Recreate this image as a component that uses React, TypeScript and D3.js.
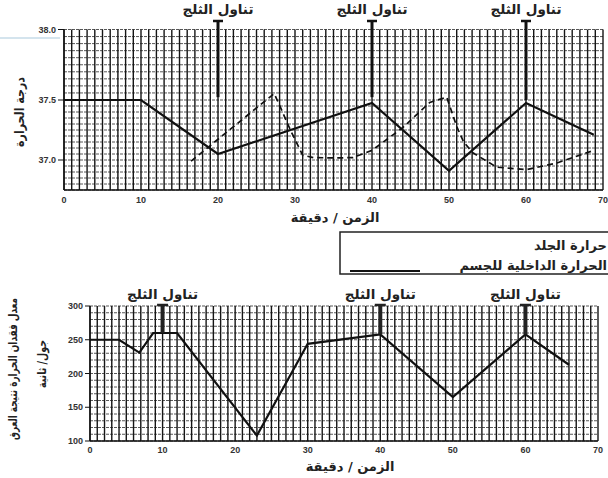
import React from 'react';
import * as d3 from 'd3';

// ---------- data ----------
const xTicks = [0, 10, 20, 30, 40, 50, 60, 70];
const yTopTicks = [37.0, 37.5, 38.0];
const yBottomTicks = [100, 150, 200, 250, 300];

const coreTime = [0, 10, 20, 40, 50, 60, 68.8];
const coreTemp = [37.5, 37.5, 37.05, 37.475, 36.91, 37.475, 37.21];

const skinTime = [16.5, 27.3, 28.1, 29.4, 31, 32.4, 35.4, 37.5, 40, 44, 47.5, 49.7, 51, 51.9, 53.1, 56.2, 60.1, 64, 68.8];
const skinTemp = [36.99, 37.546, 37.44, 37.25, 37.04, 37.02, 37.017, 37.02, 37.08, 37.27, 37.48, 37.52, 37.28, 37.15, 37.06, 36.94, 36.92, 36.975, 37.08];

const sweatTime = [0, 4, 6.8, 8.7, 12, 23, 30, 40, 50, 60, 66];
const sweatRate = [250, 250, 231, 260, 260, 108, 244, 258, 165, 258, 213];

const iceTopTimes = [20, 40, 60];
const iceTopEnds = [37.52, 37.52, 37.5];
const iceBottomTimes = [10, 40, 60];
const iceBottomEnds = [260, 258, 258];

const iceLabel = 'تناول الثلج';
const xTitle = 'الزمن / دقيقة';
const yTopTitle = 'درجة الحرارة';
const yBottomTitle1 = 'معدل فقدان الحرارة نتيجة العرق';
const yBottomTitle2 = 'جول/ ثانية';
const legendSkin = 'حرارة الجلد';
const legendCore = 'الحرارة الداخلية للجسم';

const AR = '"DejaVu Sans", sans-serif';
const LAT = '"Liberation Sans", Arial, sans-serif';

function Grid({ x, y, xMin, xMax, yVals }: any) {
  const mins = d3.range(xMin, xMax + 0.001, 1);
  const yr = y.range();
  const y0 = yr[0];
  const y1 = yr[yr.length - 1];
  const [x0, x1] = x.range();
  return (
    <g>
      {yVals.map((v: number, i: number) => (
        <line key={'h' + i} x1={x0} x2={x1} y1={y(v)} y2={y(v)} stroke="#444" strokeWidth={0.9} strokeDasharray="3 1" />
      ))}
      {mins.map((m: number) => (
        <line key={'v' + m} x1={x(m)} x2={x(m)} y1={y0} y2={y1} stroke="#151515" strokeWidth={1.4} />
      ))}
      <line x1={x0} x2={x1} y1={y0} y2={y0} stroke="#111" strokeWidth={1.4} />
      <line x1={x0} x2={x0} y1={y0} y2={y1} stroke="#111" strokeWidth={1.4} />
    </g>
  );
}

export default function App() {
  const xT = d3.scaleLinear().domain([0, 70]).range([64, 603]);
  const yT = d3.scaleLinear().domain([36.75, 37.0, 37.5, 38.0]).range([190, 160, 100, 29.5]);
  const xB = d3.scaleLinear().domain([0, 70]).range([90, 598]);
  const yB = d3.scaleLinear().domain([100, 300]).range([441, 306]);

  const topH = d3.range(0, 26).map((i) => +(38 - i * 0.05).toFixed(2));
  const botH = d3.range(0, 21).map((i) => 100 + i * 10);

  const corePath = d3.line<number>().x((_, i) => xT(coreTime[i])).y((d) => yT(d))(coreTemp) || '';
  const skinPath = d3.line<number>().x((_, i) => xT(skinTime[i])).y((d) => yT(d))(skinTemp) || '';
  const sweatPath = d3.line<number>().x((_, i) => xB(sweatTime[i])).y((d) => yB(d))(sweatRate) || '';

  return (
    <svg width={608} height={478} style={{ position: 'absolute', left: 0, top: 0, background: '#fff' }}>
      <rect x={0} y={0} width={608} height={478} fill="#fff" />
      {/* scan artefact line */}
      <line x1={0} x2={60} y1={38} y2={38} stroke="#a9c9dc" strokeWidth={1} />

      {/* ---------- top chart ---------- */}
      <Grid x={xT} y={yT} xMin={0} xMax={70} yVals={topH} />
      {yTopTicks.map((t) => (
        <g key={'yt' + t}>
          <line x1={58} x2={64} y1={yT(t)} y2={yT(t)} stroke="#111" strokeWidth={1} />
          <text x={56} y={yT(t) + 3} textAnchor="end" fontFamily={LAT} fontSize={9} fontWeight="bold" fill="#333">{t.toFixed(1)}</text>
        </g>
      ))}
      {xTicks.map((t) => (
        <text key={'xt' + t} x={xT(t)} y={203} textAnchor="middle" fontFamily={LAT} fontSize={9} fontWeight="bold" fill="#333">{t}</text>
      ))}
      <path d={skinPath} fill="none" stroke="#111" strokeWidth={1.7} strokeDasharray="6 4" />
      <path d={corePath} fill="none" stroke="#111" strokeWidth={2.2} />
      {iceTopTimes.map((t, i) => (
        <g key={'it' + t}>
          <line x1={xT(t)} x2={xT(t)} y1={21} y2={yT(iceTopEnds[i])} stroke="#111" strokeWidth={3} />
          <line x1={xT(t) - 5} x2={xT(t) + 5} y1={21} y2={21} stroke="#111" strokeWidth={2.5} />
          <text x={xT(t)} y={14} textAnchor="middle" fontFamily={AR} fontSize={13.5} fontWeight="bold" fill="#222">{iceLabel}</text>
        </g>
      ))}
      <text transform={`translate(24,112) rotate(-90)`} textAnchor="middle" fontFamily={AR} fontSize={13} fontWeight="bold" fill="#222" textLength={70} lengthAdjust="spacingAndGlyphs">{yTopTitle}</text>
      <text x={335} y={222} textAnchor="middle" fontFamily={AR} fontSize={13} fontWeight="bold" fill="#222">{xTitle}</text>

      {/* ---------- legend ---------- */}
      <rect x={340} y={232} width={280} height={42} fill="none" stroke="#222" strokeWidth={1.5} />
      <text x={607} y={250} textAnchor="end" fontFamily={AR} fontSize={13} fontWeight="bold" fill="#222">{legendSkin}</text>
      <text x={607} y={270} textAnchor="end" fontFamily={AR} fontSize={13} fontWeight="bold" fill="#222">{legendCore}</text>
      <line x1={350} x2={420} y1={271} y2={271} stroke="#111" strokeWidth={2} />

      {/* ---------- bottom chart ---------- */}
      <Grid x={xB} y={yB} xMin={0} xMax={70} yVals={botH} />
      {yBottomTicks.map((t) => (
        <g key={'yb' + t}>
          <line x1={85} x2={90} y1={yB(t)} y2={yB(t)} stroke="#111" strokeWidth={1} />
          <text x={83} y={yB(t) + 3} textAnchor="end" fontFamily={LAT} fontSize={9} fontWeight="bold" fill="#333">{t}</text>
        </g>
      ))}
      {xTicks.map((t) => (
        <text key={'xb' + t} x={xB(t)} y={453} textAnchor="middle" fontFamily={LAT} fontSize={9} fontWeight="bold" fill="#333">{t}</text>
      ))}
      <path d={sweatPath} fill="none" stroke="#111" strokeWidth={2.2} />
      {iceBottomTimes.map((t, i) => (
        <g key={'ib' + t}>
          <line x1={xB(t)} x2={xB(t)} y1={305} y2={yB(iceBottomEnds[i])} stroke="#222" strokeWidth={4} />
          <line x1={xB(t) - 5.5} x2={xB(t) + 5.5} y1={305} y2={305} stroke="#222" strokeWidth={2.5} />
          <text x={xB(t)} y={299} textAnchor="middle" fontFamily={AR} fontSize={13.5} fontWeight="bold" fill="#222">{iceLabel}</text>
        </g>
      ))}
      <text transform={`translate(17,369) rotate(-90)`} textAnchor="middle" fontFamily={AR} fontSize={12} fontWeight="bold" fill="#222" textLength={142} lengthAdjust="spacingAndGlyphs">{yBottomTitle1}</text>
      <text transform={`translate(46,364) rotate(-90)`} textAnchor="middle" fontFamily={AR} fontSize={12} fontWeight="bold" fill="#222" textLength={48} lengthAdjust="spacingAndGlyphs">{yBottomTitle2}</text>
      <text x={350} y={471} textAnchor="middle" fontFamily={AR} fontSize={13} fontWeight="bold" fill="#222">{xTitle}</text>
    </svg>
  );
}
